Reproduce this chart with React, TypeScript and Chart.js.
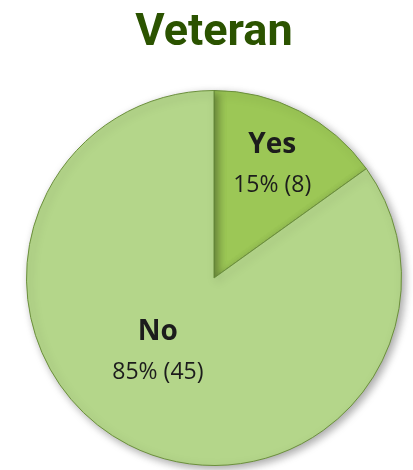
import React, { useEffect, useRef } from "react";
import { Chart, registerables } from "chart.js";

Chart.register(...registerables);

const TITLE = "Veteran";
const categories = ["Yes", "No"];
const counts = [8, 45];
const percentLabels = ["15%", "85%"];
const sliceColors = ["#9cc756", "#b4d68a"];
const labelRadius = [0.68, 0.495];
const labelAngleShift = [0, 0.175];

const labelPlugin = {
  id: "sliceLabels",
  beforeDatasetsDraw(chart: any) {
    const ctx = chart.ctx;
    ctx.save();
    ctx.shadowColor = "rgba(0,0,0,0.35)";
    ctx.shadowBlur = 8;
    ctx.shadowOffsetX = 3;
    ctx.shadowOffsetY = 3;
  },
  afterDatasetsDraw(chart: any) {
    const ctx = chart.ctx;
    ctx.restore();
    const meta = chart.getDatasetMeta(0);
    ctx.save();
    ctx.textAlign = "center";
    ctx.textBaseline = "middle";
    ctx.fillStyle = "#1c1c1c";
    meta.data.forEach((arc: any, i: number) => {
      const p = arc.getProps(["x", "y", "startAngle", "endAngle", "outerRadius"], true);
      const mid = (p.startAngle + p.endAngle) / 2 + labelAngleShift[i];
      const r = p.outerRadius * labelRadius[i];
      const cx = p.x + Math.cos(mid) * r;
      const cy = p.y + Math.sin(mid) * r;
      ctx.font = "bold 28px 'Open Sans'";
      ctx.fillText(categories[i], cx, cy - 20);
      ctx.font = "23px 'Open Sans'";
      ctx.fillText(`${percentLabels[i]} (${counts[i]})`, cx, cy + 21);
    });
    ctx.restore();
  },
};

export default function App() {
  const ref = useRef<HTMLCanvasElement>(null);
  useEffect(() => {
    if (!ref.current) return;
    const chart = new Chart(ref.current, {
      type: "pie",
      data: {
        labels: categories,
        datasets: [
          {
            data: counts,
            backgroundColor: sliceColors,
            borderColor: "#6b8f3c",
            borderWidth: 1,
          },
        ],
      },
      options: {
        animation: false,
        responsive: false,
        maintainAspectRatio: false,
        layout: { padding: { left: 26, right: 11, top: 0, bottom: 4 } },
        plugins: {
          legend: { display: false },
          tooltip: { enabled: false },
          title: {
            display: true,
            text: TITLE,
            color: "#2b5300",
            font: { family: "Roboto", weight: "bold", size: 45 },
            padding: { top: 7, bottom: 29 },
          },
        },
      },
      plugins: [labelPlugin],
    });
    return () => chart.destroy();
  }, []);
  return (
    <div style={{ position: "fixed", left: 0, top: 0, width: 413, height: 470, background: "#fff" }}>
      <canvas ref={ref} width={413} height={470} />
    </div>
  );
}
